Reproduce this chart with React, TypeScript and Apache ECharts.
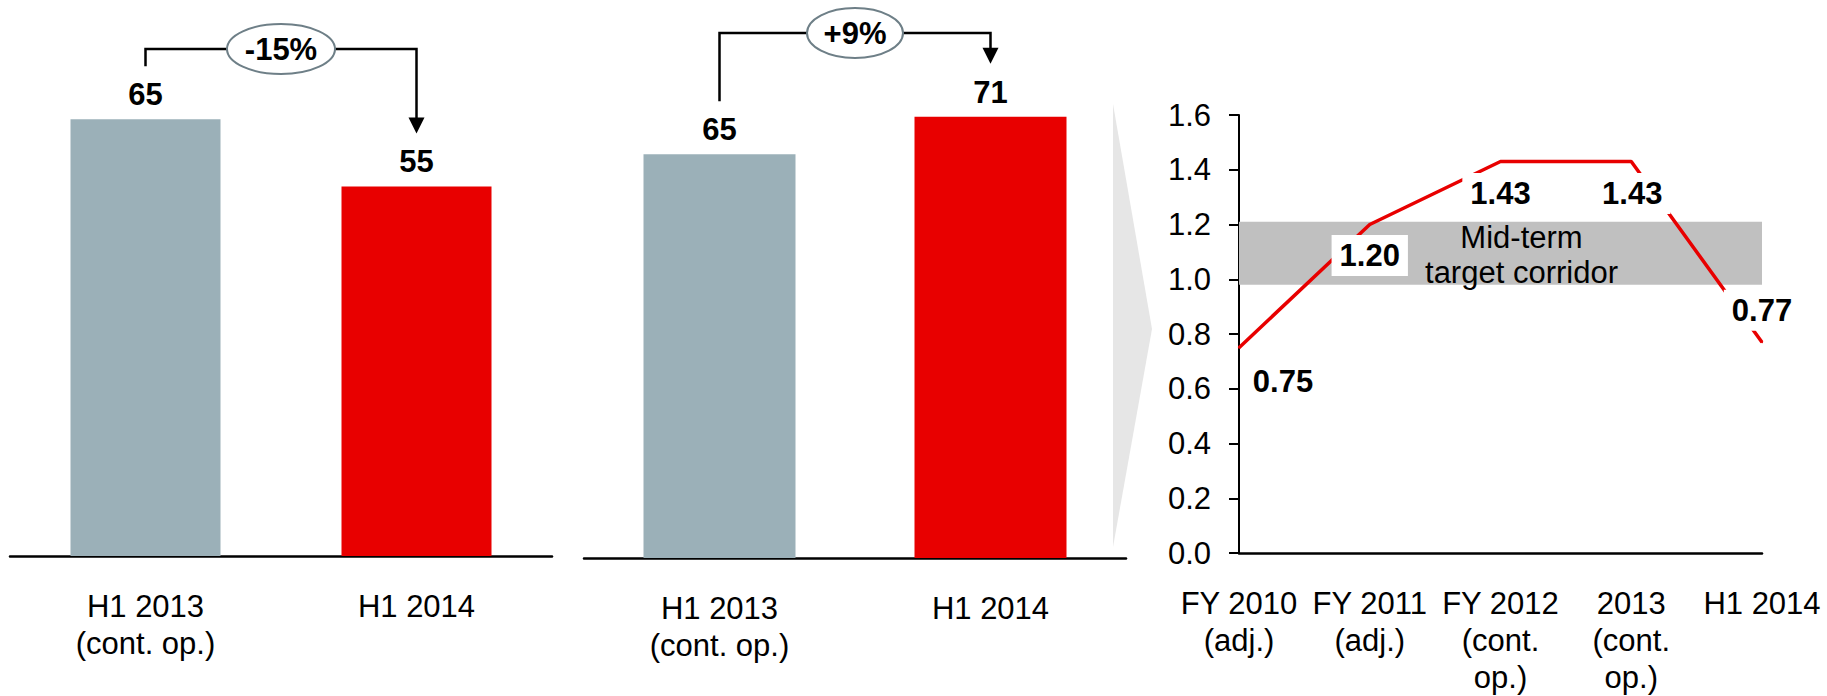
import React, { useEffect, useRef } from "react";
import * as echarts from "echarts";

// Bar panels: first half-year comparison
const barCategories = ["H1 2013\n(cont. op.)", "H1 2014"];
const leftValues = [65, 55];
const middleValues = [65, 71];

// Line panel: ratio over time
const lineCategories = [
  "FY 2010\n(adj.)",
  "FY 2011\n(adj.)",
  "FY 2012\n(cont.\nop.)",
  "2013\n(cont.\nop.)",
  "H1 2014",
];
const lineValues = [0.75, 1.2, 1.43, 1.43, 0.77];
const corridorRange = [0.98, 1.21];
const corridorLabel = "Mid-term\ntarget corridor";

// label placement around each line point (dx, dy)
const lineLabelOffsets = [
  [44, 34],
  [0, 31],
  [0, 32],
  [1, 32],
  [0, -32],
];

const FONT = "'Liberation Sans', Arial, Helvetica, sans-serif";
const FONT_SIZE = 31;
const GRAY = "#9BB0B8";
const RED = "#E80000";
const BLACK = "#000000";

const categoryLabel = {
  fontSize: FONT_SIZE,
  lineHeight: 37,
  color: BLACK,
  fontFamily: FONT,
  margin: 32,
  interval: 0,
};

export default function App() {
  const ref = useRef<HTMLDivElement>(null);

  useEffect(() => {
    if (!ref.current) return;
    const chart = echarts.init(ref.current, undefined, { renderer: "svg" });

    const barLabel = {
      show: true,
      position: "top",
      distance: 9,
      fontSize: FONT_SIZE,
      fontWeight: "bold",
      color: BLACK,
      fontFamily: FONT,
    };

    const colored = (vals: number[]) =>
      vals.map((v, i) => ({ value: v, itemStyle: { color: i === 0 ? GRAY : RED } }));

    chart.setOption({
      animation: false,
      backgroundColor: "#ffffff",
      grid: [
        { left: 10, top: 52, width: 542, height: 504 },
        { left: 584, top: 92, width: 542, height: 466 },
        { left: 1239, top: 115, width: 523, height: 439 },
      ],
      xAxis: [
        {
          type: "category",
          gridIndex: 0,
          data: barCategories,
          axisLine: { lineStyle: { color: BLACK, width: 2.5 } },
          axisTick: { show: false },
          axisLabel: categoryLabel,
        },
        {
          type: "category",
          gridIndex: 1,
          data: barCategories,
          axisLine: { lineStyle: { color: BLACK, width: 2.5 } },
          axisTick: { show: false },
          axisLabel: categoryLabel,
        },
        {
          type: "category",
          gridIndex: 2,
          data: lineCategories,
          boundaryGap: false,
          axisLine: { lineStyle: { color: BLACK, width: 2.5 } },
          axisTick: { show: false },
          axisLabel: categoryLabel,
        },
      ],
      yAxis: [
        { type: "value", gridIndex: 0, min: 0, max: 75, show: false },
        { type: "value", gridIndex: 1, min: 0, max: 75, show: false },
        {
          type: "value",
          gridIndex: 2,
          min: 0,
          max: 1.6,
          interval: 0.2,
          axisLine: { show: true, lineStyle: { color: BLACK, width: 2 } },
          axisTick: { show: true, length: 10, lineStyle: { color: BLACK, width: 2 } },
          splitLine: { show: false },
          axisLabel: {
            margin: 28,
            fontSize: FONT_SIZE,
            color: BLACK,
            fontFamily: FONT,
            formatter: (v: number) => v.toFixed(1),
          },
        },
      ],
      series: [
        {
          type: "bar",
          xAxisIndex: 0,
          yAxisIndex: 0,
          barWidth: 150,
          data: colored(leftValues),
          label: barLabel,
        },
        {
          type: "bar",
          xAxisIndex: 1,
          yAxisIndex: 1,
          barWidth: 152,
          data: colored(middleValues),
          label: barLabel,
        },
        {
          type: "line",
          xAxisIndex: 2,
          yAxisIndex: 2,
          symbol: "circle",
          symbolSize: 2,
          z: 3,
          lineStyle: { color: RED, width: 3.5 },
          itemStyle: { color: RED },
          data: lineValues.map((v, i) => ({
            value: v,
            label: { offset: lineLabelOffsets[i] },
          })),
          label: {
            show: true,
            position: "inside",
            formatter: (p: any) => Number(p.value).toFixed(2),
            fontSize: FONT_SIZE,
            fontWeight: "bold",
            color: BLACK,
            fontFamily: FONT,
            backgroundColor: "#ffffff",
            padding: [5, 8],
          },
          markArea: {
            silent: true,
            itemStyle: { color: "#C0C0C0" },
            label: {
              show: true,
              position: "inside",
              formatter: corridorLabel,
              fontSize: FONT_SIZE,
              lineHeight: 35,
              color: BLACK,
              fontFamily: FONT,
              offset: [21, 2],
            },
            data: [[{ yAxis: corridorRange[0] }, { yAxis: corridorRange[1] }]],
          },
        },
      ],
    });

    // change brackets above the two bar panels
    const bracket = (g: number, values: number[], levelY: number, rx: number) => {
      const p1 = chart.convertToPixel({ xAxisIndex: g, yAxisIndex: g }, [0, values[0]]) as number[];
      const p2 = chart.convertToPixel({ xAxisIndex: g, yAxisIndex: g }, [1, values[1]]) as number[];
      const gap = 53;
      const tip = p2[1] - gap;
      const pct = Math.round(((values[1] - values[0]) / values[0]) * 100);
      const text = (pct > 0 ? "+" : "") + pct + "%";
      const cx = (p1[0] + p2[0]) / 2;
      return [
        {
          type: "polyline",
          shape: {
            points: [
              [p1[0], p1[1] - gap],
              [p1[0], levelY],
              [p2[0], levelY],
              [p2[0], tip - 14],
            ],
          },
          style: { stroke: BLACK, lineWidth: 2.5, fill: null },
        },
        {
          type: "polygon",
          shape: {
            points: [
              [p2[0] - 8, tip - 16],
              [p2[0] + 8, tip - 16],
              [p2[0], tip],
            ],
          },
          style: { fill: BLACK },
        },
        {
          type: "ellipse",
          shape: { cx, cy: levelY, rx, ry: 25 },
          style: { fill: "#ffffff", stroke: "#6E7F87", lineWidth: 2 },
        },
        {
          type: "text",
          x: cx,
          y: levelY,
          style: {
            text,
            fontSize: FONT_SIZE,
            fontWeight: "bold",
            fill: BLACK,
            align: "center",
            verticalAlign: "middle",
            fontFamily: FONT,
          },
        },
      ];
    };

    chart.setOption({
      graphic: {
        elements: [
          {
            type: "polygon",
            shape: {
              points: [
                [1113, 104],
                [1152, 329],
                [1113, 547],
              ],
            },
            style: { fill: "#E6E6E6" },
            z: -1,
          },
          ...bracket(0, leftValues, 49, 54),
          ...bracket(1, middleValues, 33, 48),
        ],
      },
    });

    return () => chart.dispose();
  }, []);

  return (
    <div
      ref={ref}
      style={{ position: "fixed", left: 0, top: 0, width: 1827, height: 696 }}
    />
  );
}
